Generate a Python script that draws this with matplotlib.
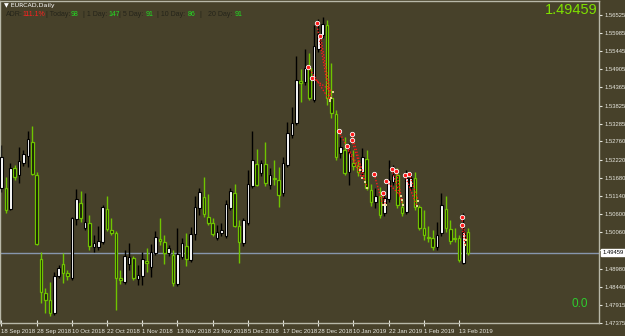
import numpy as np
import pandas as pd
import matplotlib
matplotlib.use("Agg")
import matplotlib.pyplot as plt

plt.rcParams['font.family'] = ['Liberation Sans', 'DejaVu Sans']

# daily EURCAD bars, 18 Sep 2018 - 15 Feb 2019 (no 25 Dec / 1 Jan bars)
dates = [d for d in pd.bdate_range("2018-09-18", "2019-02-15")
         if d.strftime("%m-%d") not in ("12-25", "01-01")]

opens = [1.5138, 1.5138, 1.5075, 1.5197, 1.5176, 1.5212, 1.5233, 1.5274, 1.5176, 1.4927,
         1.4826, 1.4805, 1.4767, 1.4876, 1.4912, 1.4885, 1.4870, 1.5046, 1.5093, 1.5019,
         1.5034, 1.4962, 1.4962, 1.4977, 1.5075, 1.5013, 1.5004, 1.4870, 1.4858, 1.4912,
         1.4930, 1.4867, 1.4876, 1.4921, 1.4903, 1.4945, 1.4986, 1.4977, 1.4945, 1.4939,
         1.4852, 1.4933, 1.4965, 1.4924, 1.5001, 1.5078, 1.5111, 1.5052, 1.5034, 1.4989,
         1.5004, 1.4995, 1.5078, 1.5123, 1.5025, 1.4974, 1.5034, 1.5144, 1.5209, 1.5182,
         1.5209, 1.5147, 1.5167, 1.5161, 1.5123, 1.5206, 1.5295, 1.5331, 1.5456, 1.5453,
         1.5494, 1.5399, 1.5551, 1.5592, 1.5622, 1.5405, 1.5357, 1.5242, 1.5251, 1.5185,
         1.5212, 1.5203, 1.5185, 1.5224, 1.5132, 1.5096, 1.5114, 1.5063, 1.5105, 1.5155,
         1.5176, 1.5081, 1.5066, 1.5141, 1.5167, 1.5081, 1.5019, 1.4992, 1.4989, 1.4962,
         1.5004, 1.5075, 1.5016, 1.4989, 1.4989, 1.4915, 1.5007]
highs = [1.5265, 1.5170, 1.5212, 1.5206, 1.5259, 1.5251, 1.5307, 1.5322, 1.5185, 1.4948,
         1.4841, 1.4858, 1.4888, 1.4909, 1.4945, 1.4894, 1.5052, 1.5135, 1.5129, 1.5123,
         1.5057, 1.4998, 1.5025, 1.5087, 1.5114, 1.5049, 1.5010, 1.4894, 1.4954, 1.4974,
         1.4936, 1.4909, 1.4948, 1.4960, 1.4971, 1.5010, 1.5049, 1.4998, 1.4968, 1.4954,
         1.5019, 1.4989, 1.5004, 1.5022, 1.5114, 1.5138, 1.5170, 1.5120, 1.5049, 1.5028,
         1.5034, 1.5102, 1.5138, 1.5150, 1.5043, 1.5049, 1.5191, 1.5307, 1.5254, 1.5221,
         1.5274, 1.5197, 1.5221, 1.5200, 1.5230, 1.5334, 1.5378, 1.5530, 1.5491, 1.5551,
         1.5539, 1.5622, 1.5640, 1.5646, 1.5637, 1.5509, 1.5369, 1.5289, 1.5289, 1.5271,
         1.5251, 1.5221, 1.5256, 1.5251, 1.5150, 1.5138, 1.5141, 1.5120, 1.5221, 1.5206,
         1.5197, 1.5102, 1.5191, 1.5185, 1.5185, 1.5087, 1.5072, 1.5025, 1.5013, 1.5037,
         1.5123, 1.5114, 1.5043, 1.5019, 1.4998, 1.5063, 1.5019]
lows = [1.5126, 1.5063, 1.5072, 1.5161, 1.5152, 1.5203, 1.5200, 1.5176, 1.4968, 1.4796,
        1.4767, 1.4758, 1.4761, 1.4870, 1.4855, 1.4864, 1.4864, 1.5028, 1.5037, 1.5013,
        1.4954, 1.4948, 1.4954, 1.4971, 1.5010, 1.4998, 1.4775, 1.4852, 1.4852, 1.4894,
        1.4864, 1.4849, 1.4849, 1.4888, 1.4873, 1.4939, 1.4968, 1.4912, 1.4936, 1.4846,
        1.4846, 1.4927, 1.4906, 1.4918, 1.4983, 1.5057, 1.5052, 1.5028, 1.4995, 1.4983,
        1.4995, 1.4989, 1.5072, 1.5022, 1.4915, 1.4965, 1.5028, 1.5138, 1.5144, 1.5173,
        1.5144, 1.5135, 1.5147, 1.5081, 1.5114, 1.5200, 1.5286, 1.5325, 1.5393, 1.5444,
        1.5399, 1.5393, 1.5542, 1.5583, 1.5384, 1.5346, 1.5221, 1.5227, 1.5176, 1.5147,
        1.5191, 1.5173, 1.5176, 1.5132, 1.5084, 1.5078, 1.5049, 1.5054, 1.5096, 1.5147,
        1.5078, 1.5054, 1.5060, 1.5132, 1.5072, 1.5013, 1.4983, 1.4977, 1.4954, 1.4954,
        1.4995, 1.5007, 1.4971, 1.4977, 1.4918, 1.4912, 1.4939]
closes = [1.5230, 1.5072, 1.5197, 1.5170, 1.5218, 1.5239, 1.5283, 1.5179, 1.4971, 1.4829,
          1.4805, 1.4767, 1.4876, 1.4900, 1.4885, 1.4876, 1.5049, 1.5105, 1.5049, 1.5037,
          1.4965, 1.4974, 1.4980, 1.5081, 1.5016, 1.5004, 1.4870, 1.4864, 1.4936, 1.4933,
          1.4870, 1.4879, 1.4927, 1.4915, 1.4948, 1.4992, 1.4980, 1.4945, 1.4960, 1.4855,
          1.4942, 1.4974, 1.4927, 1.5001, 1.5081, 1.5126, 1.5061, 1.5034, 1.5001, 1.5007,
          1.5013, 1.5090, 1.5129, 1.5025, 1.4977, 1.5043, 1.5150, 1.5221, 1.5147, 1.5212,
          1.5153, 1.5176, 1.5164, 1.5117, 1.5212, 1.5301, 1.5331, 1.5459, 1.5450, 1.5494,
          1.5405, 1.5560, 1.5595, 1.5625, 1.5405, 1.5360, 1.5230, 1.5259, 1.5182, 1.5245,
          1.5203, 1.5185, 1.5230, 1.5138, 1.5096, 1.5114, 1.5057, 1.5108, 1.5161, 1.5176,
          1.5087, 1.5063, 1.5167, 1.5167, 1.5081, 1.5019, 1.4998, 1.4989, 1.4962, 1.4998,
          1.5087, 1.5019, 1.4980, 1.4986, 1.4924, 1.5007, 1.49459]

# sell trades from account history: (open bar, open price, close bar, close price)
trade_open_x = [71.6, 72.5, 69.7, 70.6, 76.7, 78.6, 79.6, 79.6, 84.7, 86.6, 87.5, 88.7, 89.7, 91.7, 92.7, 104.6, 104.6]
trade_open_y = [1.5629, 1.5589, 1.5498, 1.5465, 1.5307, 1.5262, 1.5298, 1.5280, 1.5179, 1.5122,
                1.5158, 1.5193, 1.5188, 1.5176, 1.5179, 1.5051, 1.5028]
trade_close_x = [74.7, 74.9, 74.7, 75.3, 81.9, 81.5, 83.1, 82.6, 86.7, 87.3, 90.7, 91.2, 91.0, 94.4, 94.7, 105.6, 105.4]
trade_close_y = [1.5399, 1.5405, 1.5396, 1.5423, 1.5167, 1.5191, 1.5138, 1.5155, 1.5087, 1.5087,
                 1.5114, 1.5087, 1.5102, 1.5084, 1.5100, 1.4983, 1.4968]

price_ticks = [1.56525, 1.55985, 1.55445, 1.54905, 1.54365, 1.53825, 1.53285, 1.52760, 1.52220,
               1.51680, 1.51140, 1.50600, 1.50060, 1.49520, 1.48980, 1.48440, 1.47915, 1.47375]
bid = 1.49459

bg = '#47412a'
green = '#6fc400'
fg = '#e8e8e0'

fig = plt.figure(figsize=(6.25, 3.36), dpi=100)
fig.patch.set_facecolor(bg)
ax = fig.add_axes([0, 13 / 336, 599 / 625, 322 / 336])
ax.set_facecolor(bg)

x = np.arange(len(dates))
o = np.array(opens); h = np.array(highs); l = np.array(lows); c = np.array(closes)
up = c >= o

# wicks
ax.vlines(x[up], l[up], h[up], color='black', lw=1, zorder=2)
ax.vlines(x[~up], l[~up], h[~up], color=green, lw=1, zorder=2)
# bodies
bot = np.minimum(o, c)
hgt = np.maximum(np.abs(c - o), 0.00008)
ax.bar(x[up], hgt[up], bottom=bot[up], width=0.6, color='white', edgecolor='black', lw=0.8, zorder=3)
ax.bar(x[~up], hgt[~up], bottom=bot[~up], width=0.6, color='#141408', edgecolor=green, lw=0.9, zorder=3)

# bid line
ax.axhline(bid, color='#8796ad', lw=1, zorder=1)

# trade history
for i in range(len(trade_open_x)):
    ax.plot([trade_open_x[i], trade_close_x[i]], [trade_open_y[i], trade_close_y[i]],
            color='#ff1a1a', lw=1, ls=(0, (1, 1.2)), zorder=4)
ax.scatter(trade_open_x, trade_open_y, s=10, color='#ff1a1a', edgecolor='white', lw=0.6, zorder=5)
ax.scatter(trade_close_x, trade_close_y, s=3, marker='s', color='#e8d890', lw=0, zorder=5)

ax.set_xlim(-0.34, 135.8)
ax.set_ylim(1.47366, 1.56932)

# axes
for s in ax.spines.values():
    s.set_color('#b8b8a8')
    s.set_linewidth(1)
ax.yaxis.tick_right()
ax.set_yticks(price_ticks)
# the 1.49520 label sits under the bid box
ax.set_yticklabels(["" if abs(p - 1.49520) < 1e-6 else f"{p:.5f}" for p in price_ticks])
ax.tick_params(axis='y', colors=fg, labelsize=4.2, length=2.5, width=0.8, pad=1.5, direction='out')
ticks_x = list(range(0, len(dates), 8))
ax.set_xticks(ticks_x)
ax.set_xticklabels([f"{dates[i].day} {dates[i]:%b %Y}" for i in ticks_x], ha='left')
ax.tick_params(axis='x', colors=fg, labelsize=4.3, length=5, width=0.8, pad=2, direction='inout')

# current price box on the axis
ax.annotate(f"{bid:.5f}", xy=(1, bid), xycoords=('axes fraction', 'data'),
            xytext=(2.5, 0), textcoords='offset points', fontsize=4.2, color='black',
            va='center', ha='left', annotation_clip=False,
            bbox=dict(boxstyle='square,pad=0.2', fc='white', ec='white'), zorder=10)


def px(xp, yp):
    return xp / 625, 1 - yp / 336


fig.text(*px(4, 6), "\u25bc EURCAD,Daily", color='white', fontsize=4.5, va='center', family=['DejaVu Sans'])

# ADR info line
dark = '#24241a'
lime = '#22dd22'
parts = [(6, "ADR:", dark), (22.5, "111.1%", '#ff2020'), (46, "| Today:", dark), (71, "98", lime),
         (83, "| 1 Day:", dark), (108.5, "147", lime), (119, "| 5 Day:", dark), (146, "91", lime),
         (157, "| 10 Day:", dark), (187.5, "86", lime), (199, "|", dark), (208, "20 Day:", dark),
         (234.5, "91", lime)]
for xp, t, col in parts:
    fig.text(*px(xp, 14.5), t, color=col, fontsize=5.0, va='center', ha='left')

fig.text(*px(598, 10.5), f"{bid:.5f}", color='#7ee000', fontsize=10.5, va='center', ha='right')
fig.text(*px(588, 304), "0.0", color='#2ecc2e', fontsize=8.5, va='center', ha='right')

fig.savefig("out.png", dpi=100, facecolor=bg)
